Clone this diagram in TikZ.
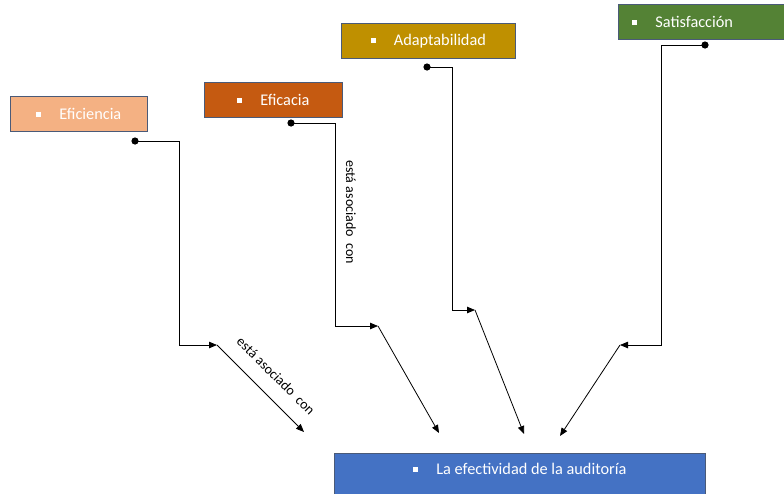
\documentclass[tikz,border=0pt]{standalone}
\usepackage{fontspec}
\setmainfont{Carlito}
\usetikzlibrary{arrows.meta}
\definecolor{cEfi}{HTML}{F4B183}
\definecolor{cEfa}{HTML}{C55A11}
\definecolor{cAda}{HTML}{BF9000}
\definecolor{cSat}{HTML}{548235}
\definecolor{cBot}{HTML}{4472C4}
\definecolor{boxline}{HTML}{4A5A78}
\newcommand{\bul}{\textcolor{white}{\rule[2.5pt]{5pt}{5pt}}\hspace{18pt}}
\begin{document}
\begin{tikzpicture}[x=1pt,y=-1pt,
  box/.style={draw=boxline, line width=0.8pt, text=white, font=\fontsize{16.3}{19}\selectfont, inner sep=0pt, anchor=north west},
  conn/.style={line width=0.8pt, -{Triangle[length=8pt,width=6.5pt]}},
  lbl/.style={font=\fontsize{14}{16}\selectfont, text=black, inner sep=0pt}]
\clip (0,0) rectangle (784,493);
\fill[white] (0,0) rectangle (784,493);
% boxes
\node[box, fill=cEfi, minimum width=137, minimum height=35] (efi) at (10,96) {\bul Eficiencia};
\node[box, fill=cEfa, minimum width=138, minimum height=35] (efa) at (204,82) {\bul Eficacia};
\node[box, fill=cAda, minimum width=174, minimum height=35] (ada) at (341,23) {\bul Adaptabilidad};
\node[box, fill=cSat, text width=170pt, inner xsep=14pt, minimum height=35, align=left] (sat) at (618,4) {\bul Satisfacción};
\node[box, fill=cBot, minimum width=371, text height=21pt, text depth=40pt, align=center] (bot) at (334,453) {\bul La efectividad de la auditoría};
% coordinates
\coordinate (d1) at (135,141); \coordinate (c1) at (179,345); \coordinate (j1) at (217,345); \coordinate (e1) at (304,432);
\coordinate (d2) at (291,123); \coordinate (c2) at (335,326); \coordinate (j2) at (378,326); \coordinate (e2) at (439,433);
\coordinate (d3) at (427,67);  \coordinate (c3) at (452,310); \coordinate (j3) at (475,310); \coordinate (e3) at (524,434);
\coordinate (d4) at (705,45);  \coordinate (c4) at (661,345); \coordinate (j4) at (620,345); \coordinate (e4) at (560,436);
% connectors
\foreach \i in {1,2,3,4}{
  \fill (d\i) circle (3.6);
  \draw[conn] (d\i) -| (c\i) -- (j\i);
  \draw[conn] (j\i) -- (e\i);
}
% labels
\node[lbl, rotate=-45] (l1) at (276,376) {está asociado\ \ con};
\node[lbl, rotate=-90] (l2) at (351,212) {está asociado\ \ con};
\end{tikzpicture}
\end{document}
